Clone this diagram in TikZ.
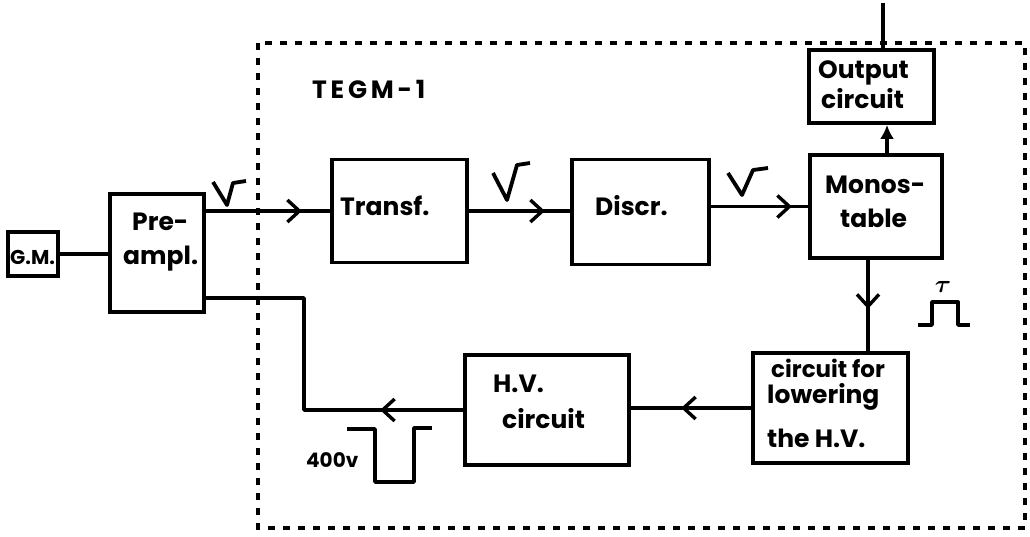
\documentclass[tikz,border=0pt]{standalone}
\usepackage{amsmath}
\usepackage{fontspec}
\setmainfont{Poppins}
\usetikzlibrary{arrows.meta,decorations.markings}
\begin{document}
\begin{tikzpicture}[x=1pt,y=-1pt,
  box/.style={draw, line width=3.8pt, inner sep=0pt},
  lbl/.style={font=\fontsize{25}{28}\selectfont\bfseries, inner sep=0pt, anchor=base west},
  small/.style={font=\fontsize{20}{22}\selectfont\bfseries, inner sep=0pt, anchor=base west},
  conn/.style={line width=3.8pt, line join=round},
  frame/.style={line width=3.2pt, dash pattern=on 7pt off 8pt},
  midarrow/.style={postaction={decorate}, decoration={markings,
    mark=at position #1 with {\arrow[line width=3.4pt]{Straight Barb[length=12pt,width=22pt]}}}}
]
\useasboundingbox (0,0) rectangle (1030,536);

% frame
\draw[frame] (258,43) rectangle (1025,528);
\node[lbl] (tegm) at (312,98) {\addfontfeature{LetterSpace=15}TEGM-1};

% boxes
\node[box, minimum width=50pt, minimum height=44pt] (gm) at (33,254) {};
\node[box, minimum width=94pt, minimum height=118pt] (preamp) at (157,253) {};
\node[box, minimum width=135pt, minimum height=103pt] (transf) at (399.5,211) {};
\node[box, minimum width=137pt, minimum height=105pt] (discr) at (640.5,212) {};
\node[box, minimum width=132pt, minimum height=103pt] (mono) at (876,206.5) {};
\node[box, minimum width=125pt, minimum height=73pt] (output) at (871.5,86.5) {};
\node[box, minimum width=155pt, minimum height=110pt] (circuit) at (830.5,408) {};
\node[box, minimum width=164pt, minimum height=110pt] (hv) at (547,410) {};

% texts
\node[lbl, font=\fontsize{20}{22}\selectfont\bfseries] (tgm) at (10,264) {G.M.};
\node[lbl] (tpre1) at (132,230) {Pre-};
\node[lbl] (tpre2) at (123,264) {ampl.};
\node[lbl] (ttransf) at (340,215) {Transf.};
\node[lbl] (tdiscr) at (595,215) {Discr.};
\node[lbl] (tmono1) at (825,193) {Monos-};
\node[lbl] (tmono2) at (840,227) {table};
\node[lbl] (tout1) at (818,78) {Output};
\node[lbl] (tout2) at (821,108) {circuit};
\node[lbl] (thv1) at (493,392) {H.V.};
\node[lbl] (thv2) at (502,428) {circuit};
\node[lbl, font=\fontsize{23}{26}\selectfont\bfseries] (tlow1) at (771,377) {circuit for};
\node[lbl] (tlow2) at (767,403) {lowering};
\node[lbl] (tlow3) at (767,447) {the H.V.};
\node[small] (t400) at (306,467) {400v};
\node[inner sep=0pt, font=\fontsize{26}{28}\selectfont] (ttau) at (943,287) {$\boldsymbol{\tau}$};

% connectors
\draw[conn] (gm.east) -- (gm.east -| preamp.west);
\draw[conn, midarrow=96pt] (preamp.east |- transf.west) -- (transf.west);
\draw[conn, midarrow=76pt] (transf.east) -- (transf.east -| discr.west);
\draw[conn, midarrow=81pt] (discr.east |- mono.west) -- (mono.west);
\coordinate (upx) at (887,0);
\draw[conn, -{Latex[length=14pt,width=14pt]}] (upx |- mono.north) -- (upx |- output.south);
\coordinate (outx) at (883,3);
\draw[conn] (outx |- output.north) -- (outx);
\coordinate (downx) at (868,0);
\draw[conn, midarrow=49pt] (downx |- mono.south) -- (downx |- circuit.north);
\draw[conn, midarrow=70pt] (circuit.west) -- (circuit.west -| hv.east);
\coordinate (bend) at (304,298);
\draw[conn, midarrow=83pt] (hv.west) -| (bend) -- (preamp.east |- bend);

% pulse symbols
\draw[conn] (213,182) -- (227,205) -- (233,183) -- (246,181);
\draw[conn] (493,173) -- (507,200) -- (517,165) -- (530,163);
\draw[conn] (728,173) -- (742,195) -- (753,170) -- (768,168);
\draw[conn] (918,325) -- (932,325) -- (932,302) -- (958,302) -- (958,325) -- (970,325);
\draw[conn] (347,429) -- (375,429) -- (375,482) -- (414,482) -- (414,428) -- (432,428);
\end{tikzpicture}
\end{document}
